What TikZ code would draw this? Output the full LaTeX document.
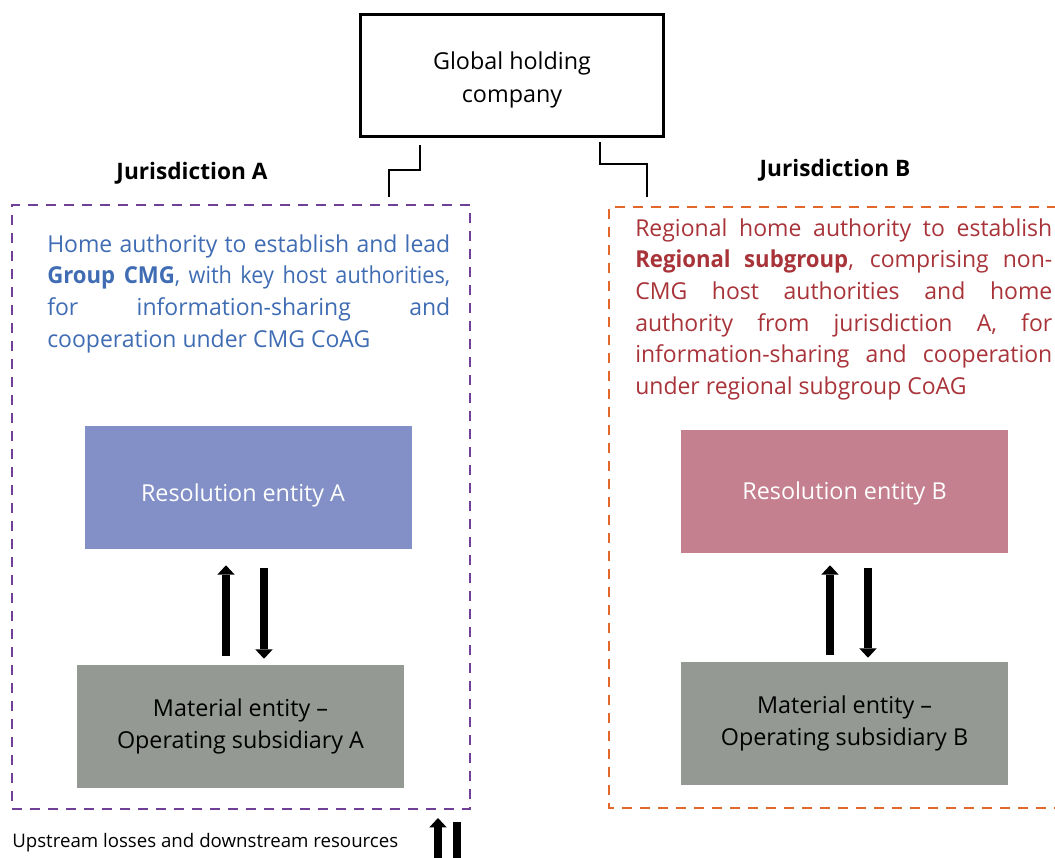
\documentclass[tikz,border=0pt]{standalone}
\usepackage{fontspec}
\setmainfont{Open Sans}
\newfontfamily\parafont{Open Sans}[FakeStretch=0.985, BoldFeatures={FakeStretch=0.95}]
\newfontfamily\paratight{Open Sans}[FakeStretch=0.93]
\usetikzlibrary{arrows.meta}

\definecolor{colJurA}{HTML}{703F96}
\definecolor{colJurB}{HTML}{E2672B}
\definecolor{colTxtA}{HTML}{3F6CB3}
\definecolor{colTxtB}{HTML}{A8343A}
\definecolor{colResA}{HTML}{8290C7}
\definecolor{colResB}{HTML}{C4808F}
\definecolor{colMat}{HTML}{949A93}

% lines of a paragraph: justified ones fill the full width, the last one keeps its width
\newcommand\firstline[1]{\hbox to \linewidth{#1}\par}
\newcommand\jline[1]{\par\noindent\hbox to \linewidth{#1}\par}
\newcommand\lastline[1]{\par\noindent\hbox{#1}\par}

\tikzset{
  bodyfont/.style={font=\fontsize{17.5}{24.5}\selectfont},
  holder/.style={draw, line width=2.2pt, minimum width=227pt, minimum height=91.5pt,
    inner sep=0pt},
  plain/.style={align=center, bodyfont, inner sep=0pt},
  link/.style={draw, line width=2pt},
  frameA/.style={draw=colJurA, line width=2.2pt, dash pattern=on 7.5pt off 6pt,
    minimum width=343.5pt, minimum height=453pt, inner sep=0pt},
  frameB/.style={draw=colJurB, line width=2.2pt, dash pattern=on 7.5pt off 6pt},
  jlabel/.style={font=\fontsize{17}{20}\selectfont\bfseries, inner sep=0pt},
  entity/.style={minimum width=245.25pt, minimum height=92.25pt, align=center,
    bodyfont, inner sep=0pt},
  para/.style={anchor=base west, inner sep=0pt, align=justify},
  blockarrow/.style={line width=6pt, -{Triangle[length=7pt,width=13pt,line width=0pt]}},
}

\begin{document}
\begin{tikzpicture}[x=0.75pt, y=-0.75pt]
\useasboundingbox (0,0) rectangle (1055,857);

% holding company
\node[holder] (ghc) at (512,75.5) {};
\node[plain] (ghcTxt) at ([yshift=-3.5pt]ghc.center) {Global holding\\company};

% jurisdiction frames and labels
\node[frameA] (jurA) at (241,507) {};
\draw[frameB] (1075,207) -| (609,808) -- (1075,808);
\node[jlabel] (labA) at (192,173) {Jurisdiction A};
\node[jlabel] (labB) at (835,170) {Jurisdiction B};

% stepped links from the holding company down to each jurisdiction
\coordinate (ca1) at (420,145);
\coordinate (ca2) at (389,197);
\coordinate (cb1) at (600,142);
\coordinate (cb2) at (647,197);
\draw[link] (ca1) -- ++(0,25) -| (ca2);
\draw[link] (cb1) -- ++(0,22) -| (cb2);

% authority descriptions
\node[para, text width=302.25pt, text=colTxtA,
      font=\parafont\fontsize{17.5}{23.8}\selectfont] (txtA) at (47,252) {%
  \firstline{Home authority to establish and lead}%
  \jline{{\bfseries Group CMG}{\paratight, with key host authorities,}}%
  \jline{for information-sharing and}%
  \lastline{cooperation under CMG CoAG}};

\node[para, text width=312.75pt, text=colTxtB,
      font=\parafont\fontsize{17.5}{23.8}\selectfont] (txtB) at (635,236) {%
  \firstline{Regional home authority to establish}%
  \jline{{\bfseries Regional subgroup}, comprising non-}%
  \jline{CMG host authorities and home}%
  \jline{authority from jurisdiction A, for}%
  \jline{information-sharing and cooperation}%
  \lastline{under regional subgroup CoAG}};

% entities
\node[entity, fill=colResA] (resA) at (248.5,487.5) {};
\node[plain, text=white] (resATxt) at ([xshift=-4.1pt,yshift=-6pt]resA.center) {Resolution entity A};
\node[entity, fill=colResB] (resB) at (844.5,491.5) {};
\node[plain, text=white] (resBTxt) at ([yshift=-1.2pt]resB.center) {Resolution entity B};
\node[entity, fill=colMat] (matA) at (240.5,726.5) {Material entity --\\Operating subsidiary A};
\node[entity, fill=colMat] (matB) at (844.5,723.5) {Material entity --\\Operating subsidiary B};

% flows between material and resolution entities
\draw[blockarrow, shorten <=6.75pt, shorten >=12pt] (matA.north -| 226,0) -- (resA.south -| 226,0);
\draw[blockarrow, shorten <=14.25pt, shorten >=4.5pt] (resA.south -| 264,0) -- (matA.north -| 264,0);
\draw[blockarrow, shorten <=5.25pt, shorten >=9pt] (matB.north -| 830,0) -- (resB.south -| 830,0);
\draw[blockarrow, shorten <=11.25pt, shorten >=3pt] (resB.south -| 868,0) -- (matB.north -| 868,0);

% legend
\node[anchor=west, inner sep=0pt, font=\fontsize{14}{17}\selectfont] (leg) at (12,843)
  {Upstream losses and downstream resources};
\coordinate (lu1) at (438,880);
\coordinate (lu2) at (438,818);
\coordinate (ld1) at (457,822);
\coordinate (ld2) at (457,880);
\draw[blockarrow] (lu1) -- (lu2);
\draw[blockarrow] (ld1) -- (ld2);
\end{tikzpicture}
\end{document}
